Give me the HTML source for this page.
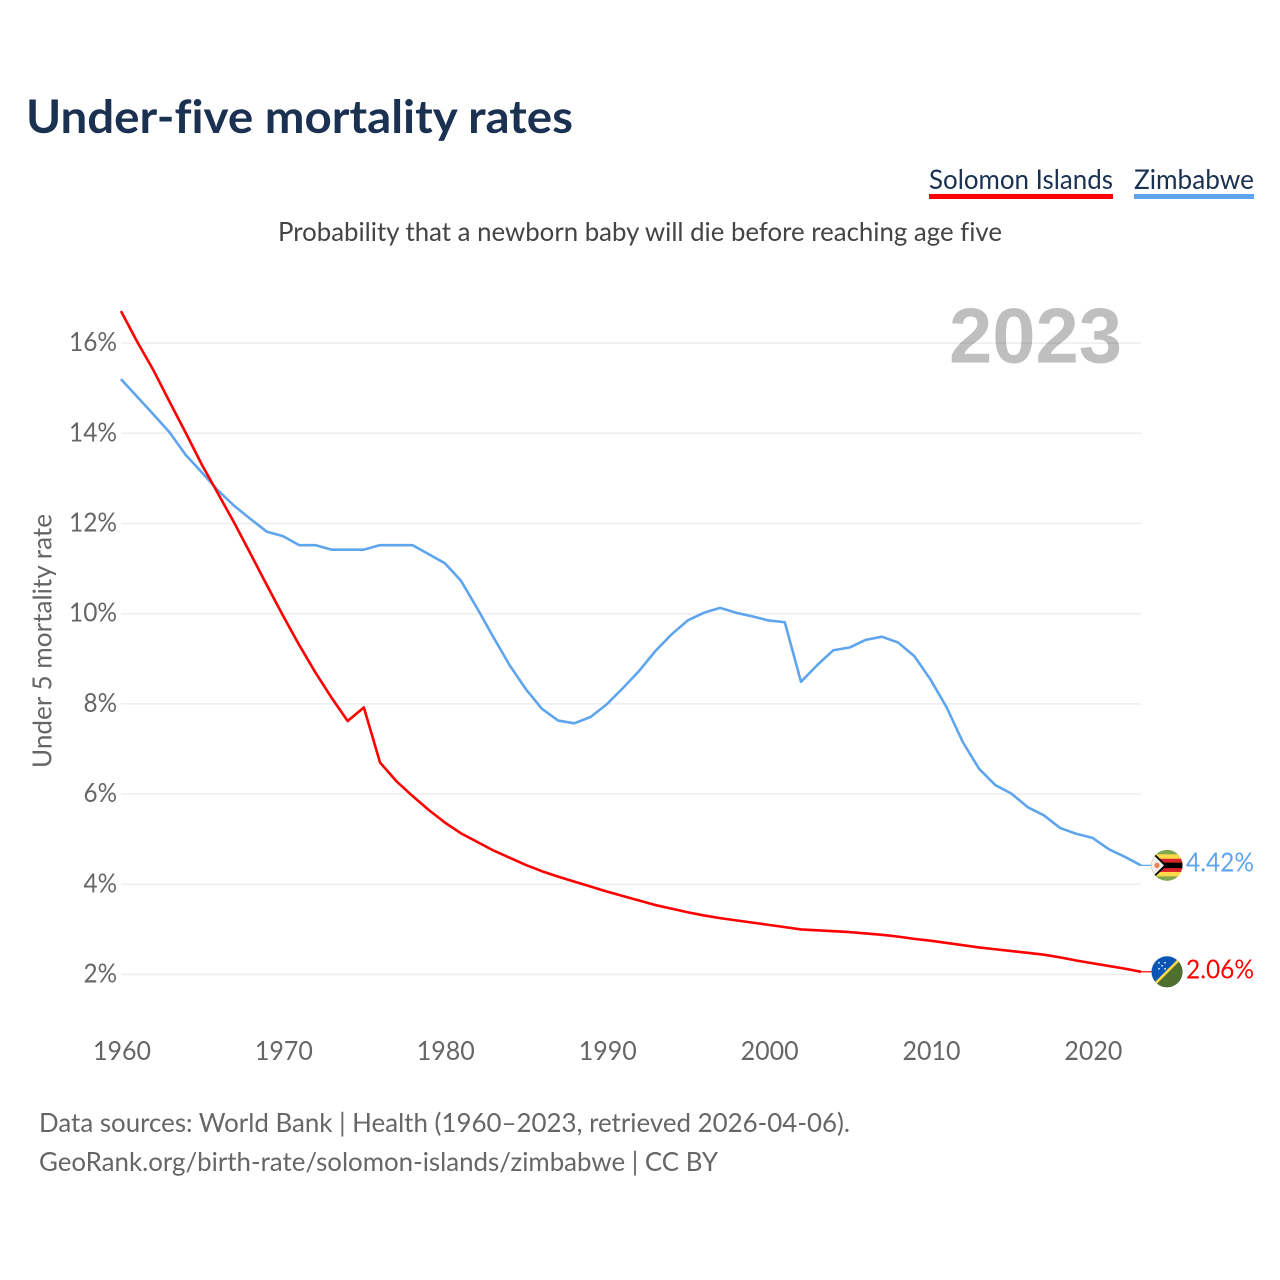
<!DOCTYPE html>
<html lang="en">
<head>
<meta charset="utf-8">
<title>Under-five mortality rates</title>
<style>
html,body{margin:0;padding:0;background:#fff;}
svg{display:block;}
text{font-family:"Lato","Carlito","Liberation Sans",sans-serif;font-variant-ligatures:none;}
</style>
</head>
<body>
<svg id="chart" xmlns="http://www.w3.org/2000/svg" width="1280" height="1280" viewBox="0 0 1280 1280">
  <defs>
    <clipPath id="flag-clip"><circle cx="0" cy="0" r="15.5"/></clipPath>
  </defs>
  <rect x="0" y="0" width="1280" height="1280" fill="#fff"/>
  <text x="26" y="133" font-size="46" font-weight="700" fill="#1a3152" textLength="547" lengthAdjust="spacingAndGlyphs">Under-five mortality rates</text>
  <text x="929" y="189" font-size="27" fill="#1a3152" textLength="184" lengthAdjust="spacingAndGlyphs">Solomon Islands</text>
  <rect x="929" y="194" width="184" height="5" fill="#ff0000"/>
  <text x="1134" y="189" font-size="27" fill="#1a3152" textLength="120" lengthAdjust="spacingAndGlyphs">Zimbabwe</text>
  <rect x="1134" y="194" width="120" height="5" fill="#5fa5ee"/>
  <text x="278" y="241" font-size="26" fill="#444" textLength="724" lengthAdjust="spacingAndGlyphs">Probability that a newborn baby will die before reaching age five</text>
  <g id="grid"></g>
  <text x="949" y="362.5" font-size="78" font-weight="700" fill="#000" fill-opacity="0.25" style="font-family:'Liberation Sans',sans-serif" textLength="173" lengthAdjust="spacingAndGlyphs">2023</text>
  <g id="yticks"></g>
  <g id="xticks"></g>
  <text transform="translate(51.5,641) rotate(-90)" text-anchor="middle" font-size="26" fill="#666" textLength="254" lengthAdjust="spacingAndGlyphs">Under 5 mortality rate</text>
  <g id="series"></g>

  <g id="flag-zimbabwe">
    <g clip-path="url(#flag-clip)">
      <rect x="-16" y="-16" width="32" height="32" fill="#7fa84f"/>
      <rect x="-16" y="-11" width="32" height="22" fill="#ffd94a"/>
      <rect x="-16" y="-6.6" width="32" height="13.2" fill="#d8232a"/>
      <rect x="-16" y="-2.7" width="32" height="5.4" fill="#000"/>
      <polygon points="-18,-17 0,0 -18,17" fill="#000"/>
      <polygon points="-18,-15 -3,0 -18,15" fill="#f2f0ee"/>
      <circle cx="-10" cy="0" r="2.6" fill="#f2804c"/>
    </g>
  </g>
  <g id="flag-solomon">
    <g clip-path="url(#flag-clip)">
      <rect x="-16" y="-16" width="32" height="32" fill="#0a55b5"/>
      <polygon points="-17,17 17,-17 17,17" fill="#4f6f2f"/>
      <line x1="-17" y1="17" x2="17" y2="-17" stroke="#ffd94a" stroke-width="2.6"/>
      <circle cx="-8" cy="-9" r="0.9" fill="#e8eef8"/>
      <circle cx="-2" cy="-9" r="0.9" fill="#e8eef8"/>
      <circle cx="-5" cy="-6" r="0.9" fill="#e8eef8"/>
      <circle cx="-8" cy="-3" r="0.9" fill="#e8eef8"/>
      <circle cx="-2" cy="-3" r="0.9" fill="#e8eef8"/>
    </g>
  </g>
  <g id="end-labels"></g>

  <text x="39" y="1132" font-size="26" fill="#666" textLength="811" lengthAdjust="spacingAndGlyphs">Data sources: World Bank | Health (1960–2023, retrieved 2026-04-06).</text>
  <text x="39" y="1171" font-size="26" fill="#666" textLength="679" lengthAdjust="spacingAndGlyphs">GeoRank.org/birth-rate/solomon-islands/zimbabwe | CC BY</text>
</svg>
<script>
const firstYear = 1960;
const solomonIslands = [
  16.71,16.03,15.40,14.70,14.01,13.30,12.66,12.01,11.33,10.64,
  9.96,9.31,8.70,8.14,7.62,7.92,6.70,6.29,5.96,5.65,
  5.37,5.13,4.94,4.75,4.59,4.43,4.29,4.17,4.06,3.95,
  3.84,3.74,3.64,3.54,3.46,3.38,3.31,3.25,3.20,3.15,
  3.10,3.05,3.00,2.98,2.96,2.94,2.91,2.88,2.84,2.79,
  2.75,2.70,2.65,2.60,2.56,2.52,2.48,2.44,2.38,2.31,
  2.25,2.19,2.13,2.06
];
const zimbabwe = [
  15.20,14.81,14.42,14.02,13.52,13.13,12.73,12.39,12.10,11.82,
  11.72,11.52,11.52,11.42,11.42,11.42,11.52,11.52,11.52,11.32,
  11.12,10.73,10.12,9.48,8.86,8.33,7.89,7.63,7.57,7.71,
  7.99,8.35,8.73,9.17,9.54,9.85,10.02,10.13,10.02,9.94,
  9.85,9.81,8.49,8.86,9.19,9.25,9.42,9.49,9.36,9.06,
  8.54,7.92,7.15,6.56,6.20,6.01,5.71,5.53,5.25,5.12,
  5.03,4.78,4.61,4.42
];
const yTickValues = [2,4,6,8,10,12,14,16];
const xTickYears = [1960,1970,1980,1990,2000,2010,2020];
const solomonEndLabel = "2.06%";
const zimbabweEndLabel = "4.42%";

const NS = "http://www.w3.org/2000/svg";
function xScale(year){ return 121 + (year - 1960) * (1020 / 63); }
function yScale(v){ return 974.5 - (v - 2) * 45.1; }
function make(tag, attrs, parent){
  const el = document.createElementNS(NS, tag);
  for (const k in attrs) el.setAttribute(k, attrs[k]);
  parent.appendChild(el);
  return el;
}

const gridG = document.getElementById("grid");
const yG = document.getElementById("yticks");
const xG = document.getElementById("xticks");
const seriesG = document.getElementById("series");
const endG = document.getElementById("end-labels");

yTickValues.forEach(function(v){
  const gl = make("line", {x1:xScale(1960), x2:xScale(2023), y1:yScale(v), y2:yScale(v), stroke:"#eeeeee", "stroke-width":1.5}, gridG);
  
  
  const label = v + "%";
  const t = make("text", {x:117, y:yScale(v)+8, "text-anchor":"end", "font-size":26, fill:"#666", textLength:(label.length-1)*14.5+19, lengthAdjust:"spacingAndGlyphs"}, yG);
  t.textContent = label;
  
  
});

xTickYears.forEach(function(y){
  const t = make("text", {x:xScale(y)+1, y:1060, "text-anchor":"middle", "font-size":26, fill:"#666", textLength:58, lengthAdjust:"spacingAndGlyphs"}, xG);
  t.textContent = String(y);
  
  
});

function drawSeries(values, color, name){
  const pts = values.map(function(v, i){ return xScale(firstYear + i).toFixed(2) + "," + yScale(v).toFixed(2); });
  const last = values[values.length - 1];
  const line = make("polyline", {points:pts.join(" "), fill:"none", stroke:color, "stroke-width":2.6, "stroke-linejoin":"round"}, seriesG);
  
  
  const stub = make("line", {x1:xScale(firstYear + values.length - 1), x2:1152, y1:yScale(last), y2:yScale(last), stroke:color, "stroke-width":1.2}, seriesG);
  
  
}
drawSeries(zimbabwe, "#5fa5ee", "zimbabwe-line");
drawSeries(solomonIslands, "#ff0000", "solomon-islands-line");

const zLast = yScale(zimbabwe[zimbabwe.length - 1]);
const sLast = yScale(solomonIslands[solomonIslands.length - 1]);
document.getElementById("flag-zimbabwe").setAttribute("transform", "translate(1167," + zLast + ")");
document.getElementById("flag-solomon").setAttribute("transform", "translate(1167," + sLast + ")");

const zLabel = make("text", {x:1186, y:zLast+6, "font-size":26, fill:"#5fa5ee", textLength:68, lengthAdjust:"spacingAndGlyphs"}, endG);
zLabel.textContent = zimbabweEndLabel;


const sLabel = make("text", {x:1186, y:sLast+6.5, "font-size":26, fill:"#ff0000", textLength:68, lengthAdjust:"spacingAndGlyphs"}, endG);
sLabel.textContent = solomonEndLabel;


</script>
</body>
</html>
